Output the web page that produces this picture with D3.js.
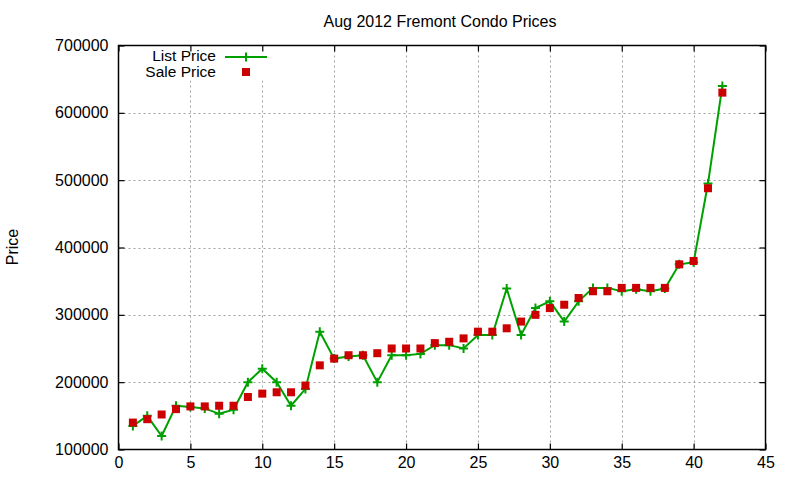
<!DOCTYPE html>
<html>
<head>
<meta charset="utf-8">
<script src="https://cdn.jsdelivr.net/npm/d3@7"></script>
<style>
  html, body { margin: 0; padding: 0; background: #fff; }
  svg text { font-family: "Liberation Sans", Arial, sans-serif; fill: #000; }
</style>
</head>
<body>
<svg id="chart" width="800" height="480"></svg>
<script>
const title = "Aug 2012 Fremont Condo Prices";
const yLabel = "Price";
const seriesNames = ["List Price", "Sale Price"];
const xTicks = [0, 5, 10, 15, 20, 25, 30, 35, 40, 45];
const yTicks = [100000, 200000, 300000, 400000, 500000, 600000, 700000];
const index = d3.range(1, 43);
const listPrice = [135000,150000,120000,165000,163000,161000,153000,159000,200000,220000,
                   200000,165000,190000,275000,235000,238000,240000,200000,240000,240000,
                   242000,255000,255000,250000,270000,270000,339000,270000,310000,320000,
                   290000,320000,340000,340000,335000,338000,335000,339000,375000,378000,
                   495000,640000];
const salePrice = [140000,145000,152000,160000,164000,164000,165000,165000,178000,183000,
                   185000,185000,195000,225000,235000,240000,240000,243000,250000,250000,
                   250000,258000,260000,265000,275000,275000,280000,290000,300000,310000,
                   315000,325000,335000,335000,340000,340000,340000,340000,375000,380000,
                   488000,630000];

const green = "#00a000", red = "#cc0000";
const L = 118.5, R = 765.5, T = 45.5, B = 449.5;
const svg = d3.select("#chart");
const x = d3.scaleLinear().domain([0, 45]).range([L, R]);
const y = d3.scaleLinear().domain([100000, 700000]).range([B, T]);

// grid
const grid = svg.append("g").attr("stroke", "#a0a0a0").attr("stroke-width", 1).attr("stroke-dasharray", "2,3");
grid.selectAll("line.gx").data(xTicks.slice(1, -1)).enter().append("line")
  .attr("x1", d => Math.round(x(d)) + 0.5).attr("x2", d => Math.round(x(d)) + 0.5)
  .attr("y1", T).attr("y2", B);
grid.selectAll("line.gy").data(yTicks.slice(1, -1)).enter().append("line")
  .attr("y1", d => Math.round(y(d)) + 0.5).attr("y2", d => Math.round(y(d)) + 0.5)
  .attr("x1", L).attr("x2", R);

// legend background
svg.append("rect").attr("x", 140).attr("y", T + 1).attr("width", 132).attr("height", 34).attr("fill", "#fff");

// list line
const pts = index.map((d, i) => [d, listPrice[i]]);
svg.append("path").datum(pts)
  .attr("fill", "none").attr("stroke", green).attr("stroke-width", 2)
  .attr("d", d3.line().x(d => x(d[0])).y(d => y(d[1])));
const plus = (g, cx, cy) => {
  g.append("path").attr("d", `M${cx-4.5},${cy}H${cx+4.5}M${cx},${cy-4.5}V${cy+4.5}`)
    .attr("stroke", green).attr("stroke-width", 2).attr("fill", "none");
};
const pg = svg.append("g");
pts.forEach(p => plus(pg, x(p[0]), y(p[1])));

// sale squares
svg.append("g").selectAll("rect").data(index.map((d, i) => [d, salePrice[i]])).enter().append("rect")
  .attr("x", d => x(d[0]) - 4).attr("y", d => y(d[1]) - 4)
  .attr("width", 8).attr("height", 8).attr("fill", red);

// axes
const fs = "16px";
const ax = svg.append("g").attr("transform", `translate(0,${B})`)
  .call(d3.axisBottom(x).tickValues(xTicks).tickSizeInner(-6).tickSizeOuter(0).tickPadding(7));
const ay = svg.append("g").attr("transform", `translate(${L},0)`)
  .call(d3.axisLeft(y).tickValues(yTicks).tickSizeInner(-6).tickSizeOuter(0).tickPadding(10).tickFormat(d3.format("d")));
const at = svg.append("g").attr("transform", `translate(0,${T})`)
  .call(d3.axisTop(x).tickValues(xTicks).tickSizeInner(-6).tickSizeOuter(0).tickFormat(""));
const ar = svg.append("g").attr("transform", `translate(${R},0)`)
  .call(d3.axisRight(y).tickValues(yTicks).tickSizeInner(-6).tickSizeOuter(0).tickFormat(""));
[ax, ay, at, ar].forEach(g => {
  g.select(".domain").remove();
  g.selectAll("line").attr("stroke", "#000").attr("stroke-width", 1.2);
  g.selectAll("text").style("font-size", fs).attr("fill", "#000")
    .style("font-family", '"Liberation Sans", Arial, sans-serif');
});

// frame
svg.append("rect").attr("x", L).attr("y", T).attr("width", R - L).attr("height", B - T)
  .attr("fill", "none").attr("stroke", "#000").attr("stroke-width", 1.5);

// title & label
svg.append("text").attr("x", 440).attr("y", 26.5).attr("text-anchor", "middle")
  .style("font-size", "16px").text(title);
svg.append("text").attr("transform", "translate(18,247) rotate(-90)").attr("text-anchor", "middle")
  .style("font-size", "16px").text(yLabel);

// legend
const lfs = "15.5px";
const lg = svg.append("g");
lg.append("text").attr("x", 216).attr("y", 60.5).attr("text-anchor", "end").style("font-size", lfs).text(seriesNames[0]);
lg.append("text").attr("x", 216).attr("y", 76.5).attr("text-anchor", "end").style("font-size", lfs).text(seriesNames[1]);
lg.append("line").attr("x1", 225).attr("x2", 267).attr("y1", 57).attr("y2", 57).attr("stroke", green).attr("stroke-width", 2);
plus(lg, 246, 57);
lg.append("rect").attr("x", 242).attr("y", 68).attr("width", 8).attr("height", 8).attr("fill", red);
</script>
</body>
</html>
